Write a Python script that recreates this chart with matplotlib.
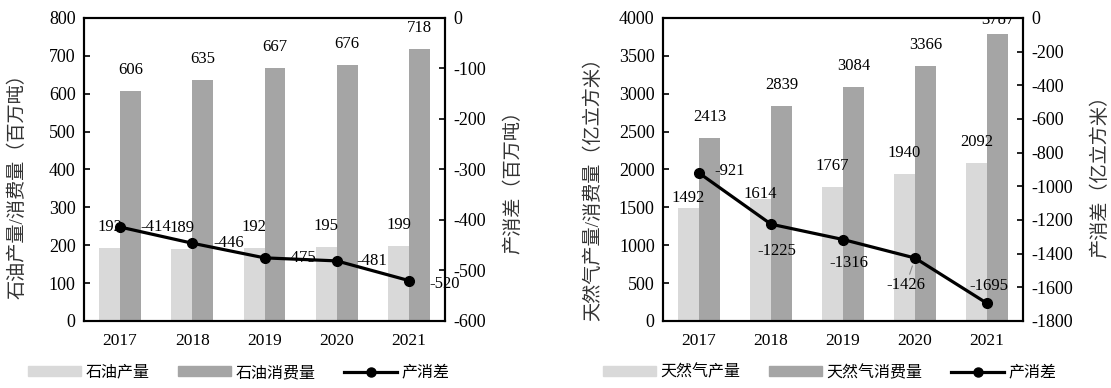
import matplotlib
matplotlib.use("Agg")
import matplotlib.pyplot as plt
import matplotlib.patches as mpatches
import matplotlib.lines as mlines
import numpy as np

plt.rcParams["font.family"] = ["Liberation Serif", "Noto Sans CJK SC"]
plt.rcParams["axes.unicode_minus"] = False

years = ["2017", "2018", "2019", "2020", "2021"]

# oil, million tonnes
oil_prod = [192, 189, 192, 195, 199]
oil_cons = [606, 635, 667, 676, 718]
oil_gap = [-414, -446, -475, -481, -520]

# natural gas, 100 million cubic metres
gas_prod = [1492, 1614, 1767, 1940, 2092]
gas_cons = [2413, 2839, 3084, 3366, 3787]
gas_gap = [-921, -1225, -1316, -1426, -1695]

light = "#d9d9d9"
dark = "#a5a5a5"
w = 0.29


def panel(rect, prod, cons, gap, ylim1, step1, ylim2, step2,
          ylab1, ylab2, lab1_xy, lab2_xy, prod_dy, cons_dy, gap_off, leader=None):
    ax = fig.add_axes(rect)
    x = np.arange(len(years))
    ax.bar(x - w / 2, prod, w, color=light, zorder=2)
    ax.bar(x + w / 2, cons, w, color=dark, zorder=2)
    for i in range(len(years)):
        ax.annotate(str(prod[i]), (x[i] - w / 2, prod[i]), xytext=(0, prod_dy[i]),
                    textcoords="offset pixels", ha="center", va="center",
                    fontsize=12, annotation_clip=False)
        ax.annotate(str(cons[i]), (x[i] + w / 2, cons[i]), xytext=(0, cons_dy[i]),
                    textcoords="offset pixels", ha="center", va="center",
                    fontsize=12, clip_on=True)
    ax.set_xlim(-0.5, len(years) - 0.5)
    ax.set_ylim(*ylim1)
    ax.set_yticks(np.arange(ylim1[0], ylim1[1] + 1, step1))
    ax.set_xticks(x)
    ax.set_xticklabels(years)
    ax.tick_params(axis="x", length=0, labelsize=12.5, pad=9)
    ax.tick_params(axis="y", labelsize=13, length=4, width=1.2, direction="in", pad=6)
    ax.set_ylabel(ylab1, fontsize=13.8, color="#333333")
    ax.yaxis.set_label_coords(*lab1_xy)
    for s in ax.spines.values():
        s.set_linewidth(1.5)

    ax2 = ax.twinx()
    ax2.plot(x, gap, color="black", lw=2.3, marker="o", markersize=7, zorder=3)
    for i in range(len(years)):
        kw = {}
        if leader == i:
            kw["arrowprops"] = dict(arrowstyle="-", color="#888888", lw=0.8,
                                    shrinkA=0, shrinkB=6)
        ax2.annotate(str(gap[i]), (x[i], gap[i]), xytext=gap_off[i],
                     textcoords="offset pixels", ha="center", va="center",
                     fontsize=12, annotation_clip=False, **kw)
    ax2.set_ylim(*ylim2)
    ax2.set_yticks(np.arange(ylim2[0], ylim2[1] + 1, step2))
    ax2.tick_params(axis="y", labelsize=13, length=4, width=1.2, direction="in", pad=6)
    ax2.set_ylabel(ylab2, fontsize=13.8, color="#333333")
    ax2.yaxis.set_label_coords(*lab2_xy)
    for s in ax2.spines.values():
        s.set_linewidth(1.5)
    return ax


def legend(cx, names):
    handles = [
        mpatches.Patch(color=light, label=names[0]),
        mpatches.Patch(color=dark, label=names[1]),
        mlines.Line2D([], [], color="black", lw=2.3, marker="o", markersize=6.5,
                      label=names[2]),
    ]
    fig.legend(handles=handles, loc="center", bbox_to_anchor=(cx, 0.039),
               ncol=3, frameon=False, fontsize=11.5, handlelength=3.3,
               handleheight=0.55, handletextpad=0.3, columnspacing=1.8)


fig = plt.figure(figsize=(11.11, 3.88), dpi=100)

panel([0.0756, 0.1727, 0.325, 0.781], oil_prod, oil_cons, oil_gap,
      (0, 800), 100, (-600, 0), 100,
      "石油产量/消费量（百万吨）", "产消差（百万吨）",
      (-0.158, 0.46), (1.163, 0.472),
      [21, 21, 21, 21, 21], [21, 21, 21, 21, 21],
      [(36, 0), (36, 0), (36, 0), (35, 0), (36, -3)])

panel([0.5968, 0.1727, 0.324, 0.781], gas_prod, gas_cons, gas_gap,
      (0, 4000), 500, (-1800, 0), 200,
      "天然气产量/消费量（亿立方米）", "产消差（亿立方米）",
      (-0.169, 0.449), (1.189, 0.492),
      [10, 5, 21, 21, 21], [21, 21, 21, 21, 14],
      [(31, 2), (6, -27), (6, -23), (-9, -27), (2, 17)], leader=3)

legend(0.215, ["石油产量", "石油消费量", "产消差"])
legend(0.747, ["天然气产量", "天然气消费量", "产消差"])

fig.savefig("out.png", dpi=100)
